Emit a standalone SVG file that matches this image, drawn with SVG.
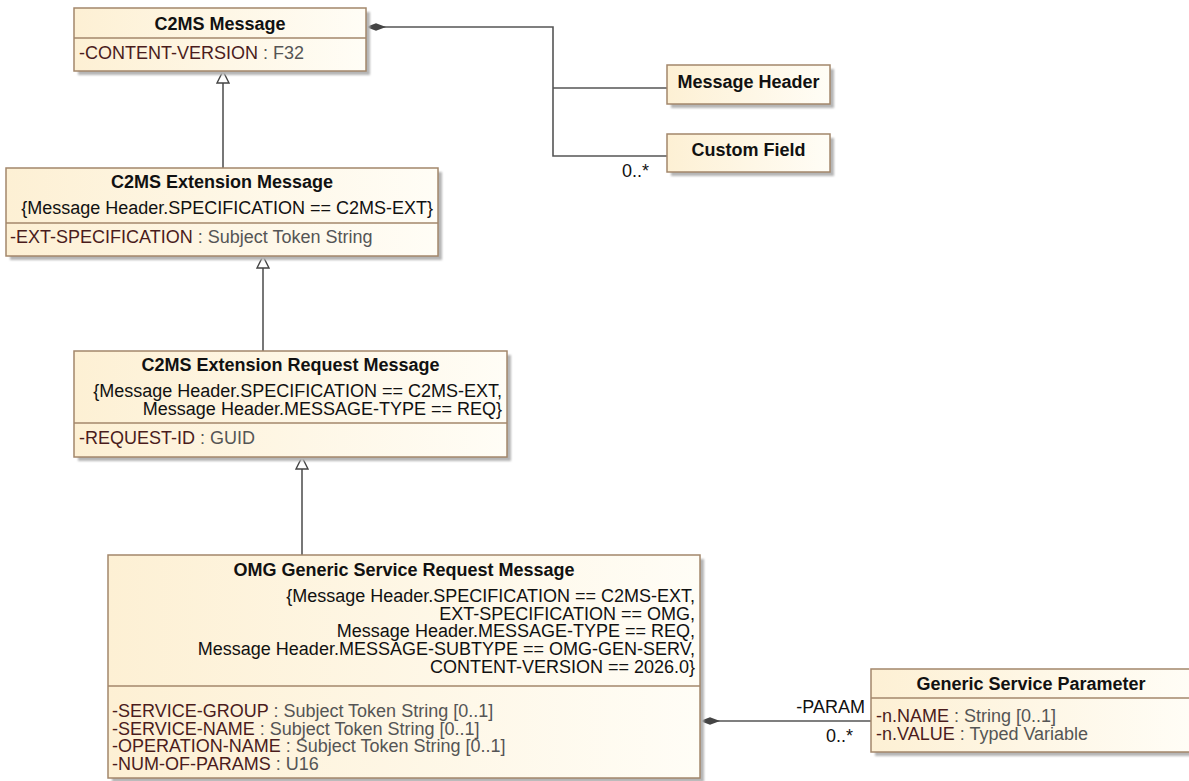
<svg xmlns="http://www.w3.org/2000/svg" width="1189" height="781" viewBox="0 0 1189 781">
<style>
text{font-family:"Liberation Sans",Arial,sans-serif;font-size:18px;fill:#111}
.t{font-weight:bold;text-anchor:middle}
.c{text-anchor:end}
.n{fill:#4a1c1c}
.ty{fill:#555}
.box{fill:url(#fill);stroke:#a3876b;stroke-width:1.5}
.sh{fill:#b5b5b5;filter:url(#blur)}
.sep{stroke:#a3876b;stroke-width:1.5}
.ln{fill:none;stroke:#555;stroke-width:1.6}
.lab{text-anchor:end}
</style>
<defs>
<linearGradient id="fill" x1="0" y1="0" x2="1" y2="0"><stop offset="0" stop-color="#fdf0d4"/><stop offset="1" stop-color="#fffdf6"/></linearGradient>
<filter id="blur" x="-5%" y="-10%" width="115%" height="130%"><feGaussianBlur stdDeviation="1.3"/></filter>
<marker id="gen" viewBox="0 0 14 14" refX="13" refY="7" markerWidth="14" markerHeight="14" markerUnits="userSpaceOnUse" orient="auto"><path d="M1,1 L13,7 L1,13 Z" fill="#fff" stroke="#444" stroke-width="1.4"/></marker>
<marker id="dia" viewBox="0 0 22 10" refX="1" refY="5" markerWidth="22" markerHeight="10" markerUnits="userSpaceOnUse" orient="auto"><path d="M1,5 L11,1.2 L21,5 L11,8.8 Z" fill="#444"/></marker>
</defs>
<rect width="1189" height="781" fill="#fff"/>
<g id="connectors">
<path class="ln" d="M223,168 L223,71" marker-end="url(#gen)"/>
<path class="ln" d="M263,351 L263,256" marker-end="url(#gen)"/>
<path class="ln" d="M302,555 L302,457" marker-end="url(#gen)"/>
<path class="ln" d="M366,27 L553,27 L553,156 L667,156" marker-start="url(#dia)"/>
<path class="ln" d="M553,88 L667,88"/>
<path class="ln" d="M700,721 L871,721" marker-start="url(#dia)"/>
<text class="lab" x="649" y="177">0..*</text>
<text class="lab" x="865" y="713">-PARAM</text>
<text class="lab" x="853" y="742">0..*</text>
</g>
<g id="c2ms-message">
<rect class="sh" x="78" y="12" width="292" height="63"/>
<rect class="box" x="74" y="8" width="292" height="63"/>
<line class="sep" x1="74" y1="38" x2="366" y2="38"/>
<text class="t" x="220" y="30">C2MS Message</text>
<text x="79" y="59"><tspan class="n">-CONTENT-VERSION</tspan><tspan class="ty"> : F32</tspan></text>
</g>
<g id="message-header">
<rect class="sh" x="671" y="69" width="163" height="39"/>
<rect class="box" x="667" y="65" width="163" height="39"/>
<text class="t" x="748.5" y="88">Message Header</text>
</g>
<g id="custom-field">
<rect class="sh" x="671" y="138" width="163" height="38"/>
<rect class="box" x="667" y="134" width="163" height="38"/>
<text class="t" x="748.5" y="156">Custom Field</text>
</g>
<g id="c2ms-extension-message">
<rect class="sh" x="10" y="172" width="432" height="88"/>
<rect class="box" x="6" y="168" width="432" height="88"/>
<line class="sep" x1="6" y1="223" x2="438" y2="223"/>
<text class="t" x="222" y="188">C2MS Extension Message</text>
<text class="c" x="433" y="214">{Message Header.SPECIFICATION == C2MS-EXT}</text>
<text x="10" y="243"><tspan class="n">-EXT-SPECIFICATION</tspan><tspan class="ty"> : Subject Token String</tspan></text>
</g>
<g id="c2ms-extension-request-message">
<rect class="sh" x="78" y="355" width="433" height="106"/>
<rect class="box" x="74" y="351" width="433" height="106"/>
<line class="sep" x1="74" y1="423" x2="507" y2="423"/>
<text class="t" x="290.5" y="371">C2MS Extension Request Message</text>
<text class="c" x="502" y="397">{Message Header.SPECIFICATION == C2MS-EXT,</text>
<text class="c" x="502" y="414.5">Message Header.MESSAGE-TYPE == REQ}</text>
<text x="79" y="444"><tspan class="n">-REQUEST-ID</tspan><tspan class="ty"> : GUID</tspan></text>
</g>
<g id="omg-generic-service-request-message">
<rect class="sh" x="112" y="559" width="592" height="223"/>
<rect class="box" x="108" y="555" width="592" height="223"/>
<line class="sep" x1="108" y1="686" x2="700" y2="686"/>
<text class="t" x="404" y="576">OMG Generic Service Request Message</text>
<text class="c" x="695" y="602">{Message Header.SPECIFICATION == C2MS-EXT,</text>
<text class="c" x="695" y="619.7">EXT-SPECIFICATION == OMG,</text>
<text class="c" x="695" y="637.4">Message Header.MESSAGE-TYPE == REQ,</text>
<text class="c" x="695" y="655.1">Message Header.MESSAGE-SUBTYPE == OMG-GEN-SERV,</text>
<text class="c" x="695" y="672.8">CONTENT-VERSION == 2026.0}</text>
<text x="112" y="717"><tspan class="n">-SERVICE-GROUP</tspan><tspan class="ty"> : Subject Token String [0..1]</tspan></text>
<text x="112" y="734.5"><tspan class="n">-SERVICE-NAME</tspan><tspan class="ty"> : Subject Token String [0..1]</tspan></text>
<text x="112" y="752"><tspan class="n">-OPERATION-NAME</tspan><tspan class="ty"> : Subject Token String [0..1]</tspan></text>
<text x="112" y="769.5"><tspan class="n">-NUM-OF-PARAMS</tspan><tspan class="ty"> : U16</tspan></text>
</g>
<g id="generic-service-parameter">
<rect class="sh" x="875" y="673" width="320" height="83"/>
<rect class="box" x="871" y="669" width="320" height="83"/>
<line class="sep" x1="871" y1="698" x2="1191" y2="698"/>
<text class="t" x="1031" y="690">Generic Service Parameter</text>
<text x="876" y="722"><tspan class="n">-n.NAME</tspan><tspan class="ty"> : String [0..1]</tspan></text>
<text x="876" y="739.5"><tspan class="n">-n.VALUE</tspan><tspan class="ty"> : Typed Variable</tspan></text>
</g>
</svg>
